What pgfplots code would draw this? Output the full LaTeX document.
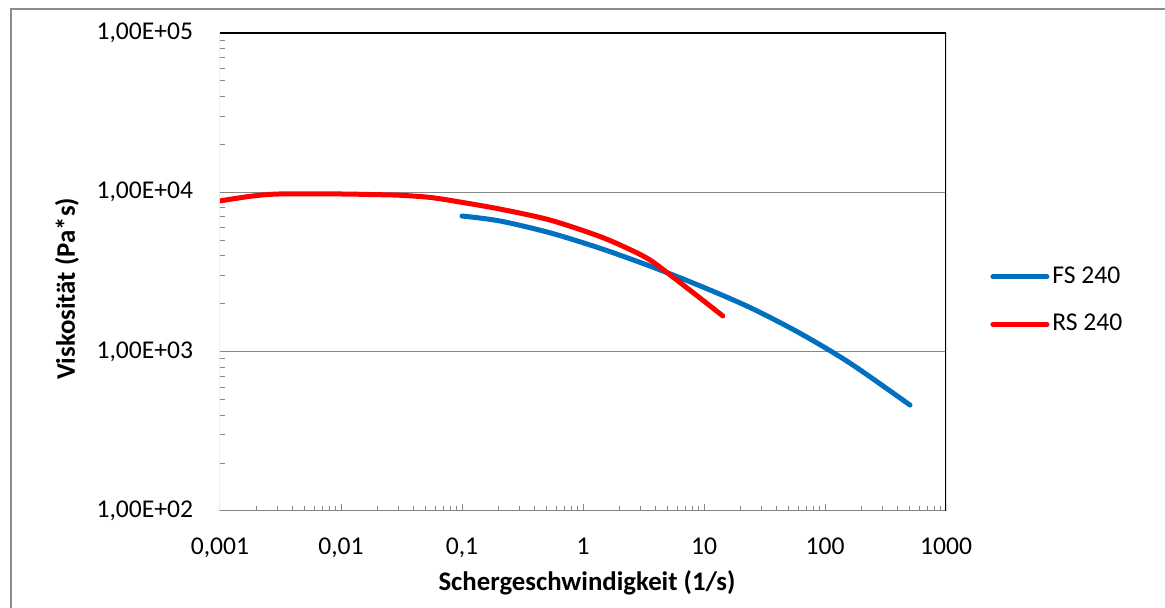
\documentclass[border=0pt]{standalone}
\usepackage{fontspec}
\setmainfont{Carlito}
\usepackage{pgfplots}
\pgfplotsset{compat=1.18}
\definecolor{fsblue}{RGB}{0,112,192}
\definecolor{rsred}{RGB}{255,0,0}
\definecolor{gridgray}{RGB}{134,134,134}
\definecolor{framegray}{RGB}{140,140,140}

\begin{document}
\fontsize{12.8}{15}\selectfont
\begin{tikzpicture}
\useasboundingbox (0,0) rectangle (582.5pt,304pt);
\draw[framegray, line width=1pt] (5.5pt,0pt) -- (5.5pt,299.5pt) -- (582.5pt,299.5pt);
\begin{axis}[
  at={(110pt,48.5pt)}, anchor=south west,
  scale only axis, width=363pt, height=239pt,
  xmode=log, ymode=log,
  xmin=0.001, xmax=1000, ymin=100, ymax=100000,
  xtick={0.001,0.01,0.1,1,10,100,1000},
  xticklabels={{0,001},{0,01},{0,1},1,10,100,1000},
  ytick={100,1000,10000,100000},
  yticklabels={{1,00E+02},{1,00E+03},{1,00E+04},{1,00E+05}},
  minor xtick={0.002,0.003,0.004,0.005,0.006,0.007,0.008,0.009,
    0.02,0.03,0.04,0.05,0.06,0.07,0.08,0.09,
    0.2,0.3,0.4,0.5,0.6,0.7,0.8,0.9,
    2,3,4,5,6,7,8,9,
    20,30,40,50,60,70,80,90,
    200,300,400,500,600,700,800,900},
  minor ytick={200,300,400,500,600,700,800,900,
    2000,3000,4000,5000,6000,7000,8000,9000,
    20000,30000,40000,50000,60000,70000,80000,90000},
  xtick pos=left, ytick pos=left,
  tick align=inside, major tick length=0pt, minor tick length=2.5pt,
  minor tick style={gridgray, line width=0.5pt},
  ymajorgrids, grid style={gridgray, line width=0.5pt},
  axis line style={draw=none},
  /pgf/number format/assume math mode=true,
  tick label style={font=\fontsize{12.8}{15}\selectfont},
  xticklabel style={yshift=-9pt},
  yticklabel style={xshift=-9pt},
  xlabel={\textbf{Schergeschwindigkeit (1/s)}},
  ylabel={\textbf{Viskosität (Pa*s)}},
  label style={font=\fontsize{13.4}{16}\selectfont},
  xlabel style={at={(axis description cs:0.5055,-0.1506)}, anchor=center},
  ylabel style={at={(axis description cs:-0.2107,0.4644)}, anchor=center},
  legend style={at={(axis description cs:1.0606,0.44)}, anchor=west,
    draw=none, fill=none, inner sep=0pt, row sep=10.5pt,
    nodes={inner sep=1.5pt}, font=\fontsize{12.8}{15}\selectfont},
  legend cell align=left,
  legend image code/.code={\draw[#1,line cap=round] (0pt,0pt) -- (27pt,0pt);},
]

\addplot[fsblue, line width=2.5pt, smooth, line cap=round] coordinates {
  (0.1,7100) (0.206,6607) (0.533,5572) (1.38,4457) (3.58,3443)
  (9.27,2588) (24,1892) (62,1306) (161,847) (504,462)
};
\addlegendentry{FS 240}

\addplot[rsred, line width=2.5pt, smooth, line cap=round] coordinates {
  (0.001,8830) (0.0018,9450) (0.0031,9760) (0.01,9760) (0.018,9680)
  (0.031,9580) (0.055,9280) (0.1,8650) (0.206,7850) (0.533,6700)
  (1.38,5280) (2.5,4340) (3.58,3760) (5.25,3030) (9.27,2170) (14.3,1675)
};
\addlegendentry{RS 240}

\draw[gridgray, line width=0.5pt] (rel axis cs:0,1) -- (rel axis cs:0,0) -- (rel axis cs:1,0);
\draw[black, line width=0.75pt] (rel axis cs:0,1) -- (rel axis cs:1,1) -- (rel axis cs:1,0);
\pgfplotsinvokeforeach{0.001,0.01,0.1,1,10,100,1000}{
  \draw[gridgray, line width=0.5pt] (axis cs:#1,100) ++(0pt,-3.5pt) -- ++(0pt,7pt);
}
\pgfplotsinvokeforeach{100,1000,10000,100000}{
  \draw[gridgray, line width=0.5pt] (axis cs:0.001,#1) -- ++(-5pt,0pt);
}
\end{axis}
\end{tikzpicture}
\end{document}
